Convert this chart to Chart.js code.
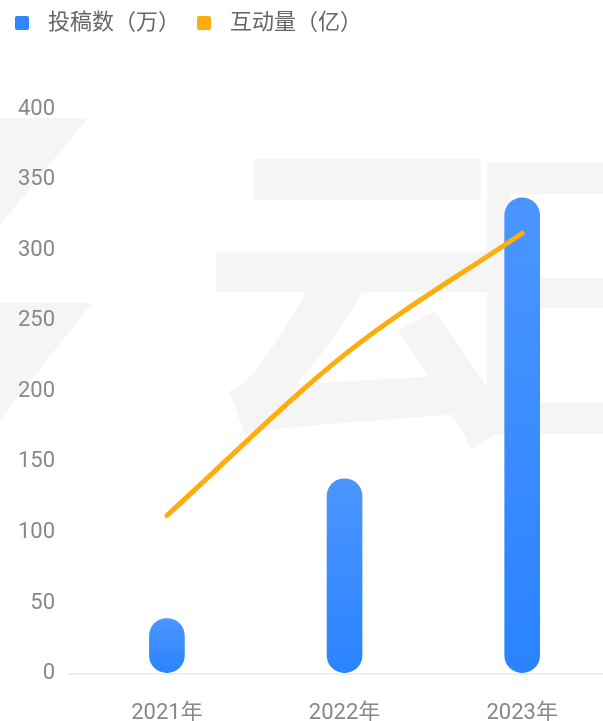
<!DOCTYPE html>
<html><head><meta charset="utf-8">
<script src="https://cdn.jsdelivr.net/npm/chart.js@4/dist/chart.umd.min.js"></script>
<style>
html,body{margin:0;padding:0;background:#fff;overflow:hidden;}
#wrap{width:611px;height:746px;position:relative;}
</style></head>
<body><div id="wrap"><canvas id="c"></canvas></div>
<script>
const categories = ['2021年', '2022年', '2023年'];
const submissions = [39, 138, 337];      // 投稿数（万）
const interactions = [112, 226, 312];    // 互动量（亿）
const yTicks = [0, 50, 100, 150, 200, 250, 300, 350, 400];
const seriesNames = ['投稿数（万）', '互动量（亿）'];

const FONT = "Roboto, 'Noto Sans CJK SC', sans-serif";

function legendIcon(color) {
  const cv = document.createElement('canvas');
  cv.width = 22; cv.height = 14;
  const g = cv.getContext('2d');
  g.fillStyle = color;
  g.beginPath();
  g.roundRect(0, 0, 14, 14, 2);
  g.fill();
  return cv;
}

const legendGap = {
  id: 'legendGap',
  beforeInit(chart) {
    const lg = chart.legend;
    const fit = lg.fit;
    lg.fit = function () { fit.call(this); this.height += 64; };
    const draw = lg.draw;
    lg.draw = function () {
      const ctx = this.ctx;
      ctx.save();
      ctx.translate(-7, -1);
      draw.call(this);
      ctx.restore();
    };
  }
};

const watermark = {
  id: 'watermark',
  beforeDraw(chart) {
    const ctx = chart.ctx;
    ctx.save();
    ctx.fillStyle = '#f5f5f5';
    ctx.font = "bold 330px 'Noto Sans CJK SC'";
    ctx.textBaseline = 'middle';
    ctx.textAlign = 'left';
    ctx.fillText('云', 200, 292);
    ctx.fillRect(487, 162, 24, 272);
    ctx.fillRect(487, 162, 130, 32);
    ctx.fillRect(511, 278, 110, 30);
    ctx.fillRect(487, 402, 130, 32);
    function para(pts) {
      ctx.beginPath();
      ctx.moveTo(pts[0][0], pts[0][1]);
      for (let i = 1; i < pts.length; i++) ctx.lineTo(pts[i][0], pts[i][1]);
      ctx.closePath();
      ctx.fill();
    }
    para([[0, 118], [88, 118], [0, 225]]);
    para([[0, 303], [92, 303], [0, 420]]);
    ctx.restore();
  }
};

new Chart(document.getElementById('c'), {
  data: {
    labels: categories,
    datasets: [
      {
        type: 'line',
        label: seriesNames[1],
        data: interactions,
        borderColor: '#ffad0d',
        backgroundColor: '#ffad0d',
        borderWidth: 5,
        borderCapStyle: 'round',
        pointRadius: 0,
        pointHoverRadius: 0,
        cubicInterpolationMode: 'monotone',
        order: 0,
        pointStyle: legendIcon('#ffad0d')
      },
      {
        type: 'bar',
        label: seriesNames[0],
        data: submissions,
        barThickness: 35,
        borderRadius: 18,
        borderSkipped: false,
        order: 1,
        pointStyle: legendIcon('#2f86ff'),
        backgroundColor(ctx) {
          const chart = ctx.chart;
          const ys = chart.scales.y;
          if (!ys || !chart.chartArea || ctx.parsed === undefined) return '#3a8cff';
          const top = ys.getPixelForValue(ctx.parsed.y);
          const bot = ys.getPixelForValue(0);
          if (!isFinite(top) || !isFinite(bot) || top === bot) return '#3a8cff';
          const g = chart.ctx.createLinearGradient(0, top, 0, bot);
          g.addColorStop(0, '#4b95ff');
          g.addColorStop(1, '#2a83ff');
          return g;
        }
      }
    ]
  },
  options: {
    responsive: true,
    maintainAspectRatio: false,
    animation: false,
    layout: { padding: { top: -4, right: 0, bottom: 0, left: 5 } },
    plugins: {
      tooltip: { enabled: false },
      legend: {
        position: 'top',
        align: 'start',
        reverse: true,
        labels: {
          usePointStyle: true,
          pointStyleWidth: 22,
          boxHeight: 14,
          padding: 17,
          color: '#666',
          font: { family: FONT, size: 22 }
        }
      }
    },
    scales: {
      x: {
        grid: { display: false },
        border: { display: false },
        ticks: { color: '#888', padding: 19, font: { family: FONT, size: 22 } }
      },
      y: {
        min: 0, max: 400,
        afterBuildTicks(scale) { scale.ticks = yTicks.map(v => ({ value: v })); },
        border: { display: false },
        grid: {
          color: c => (c.tick && c.tick.value === 0) ? '#eeeeee' : 'rgba(0,0,0,0)',
          lineWidth: 2,
          tickLength: 10
        },
        ticks: { color: '#888', padding: 13, font: { family: FONT, size: 22 } }
      }
    }
  },
  plugins: [legendGap, watermark]
});
</script></body></html>
